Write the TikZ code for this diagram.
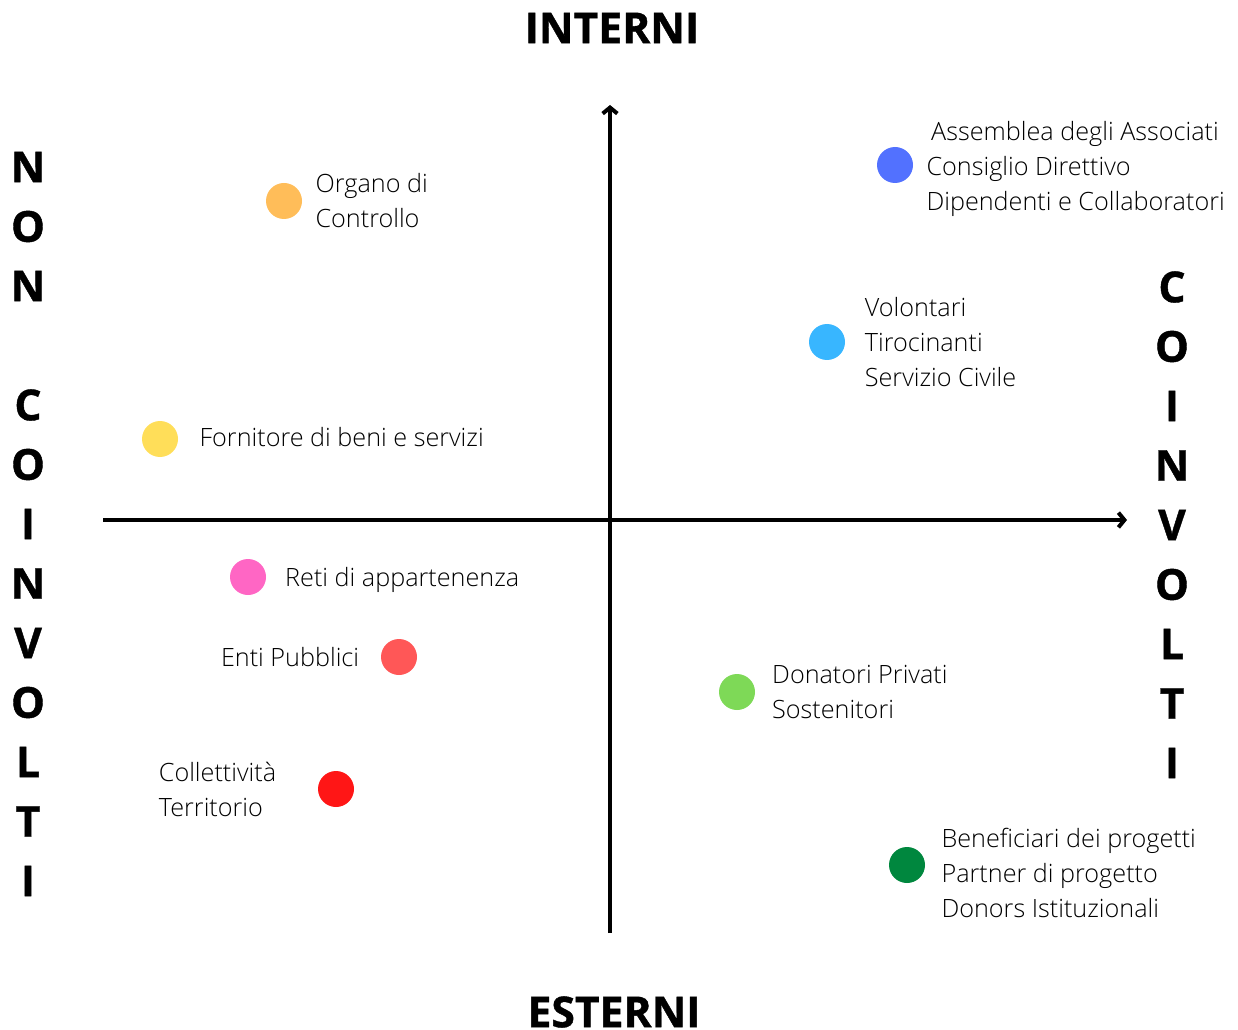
\documentclass[tikz,border=0pt]{standalone}
\usepackage{fontspec}
\setmainfont{Open Sans}[UprightFont={* Light},BoldFont={Open Sans Bold},BoldFeatures={FakeBold=1}]
\usetikzlibrary{positioning,arrows.meta}
\definecolor{cblue}{HTML}{5271FF}
\definecolor{corange}{HTML}{FFBD59}
\definecolor{ccyan}{HTML}{38B6FF}
\definecolor{cyellow}{HTML}{FFDE59}
\definecolor{cpink}{HTML}{FF66C4}
\definecolor{ccoral}{HTML}{FF5757}
\definecolor{cred}{HTML}{FF1616}
\definecolor{clime}{HTML}{7ED957}
\definecolor{cgreen}{HTML}{00873E}
\tikzset{
  dot/.style={circle,inner sep=0pt,minimum size=27pt,fill=#1},
  lab/.style={inner sep=0pt,align=left,font=\fontsize{18.9}{26.25}\selectfont},
  head/.style={inner sep=0pt,font=\fontsize{32}{40}\selectfont\bfseries},
  axis/.style={line width=3pt,-{Straight Barb[length=4.5pt,width=11pt]}}
}
\begin{document}
\begin{tikzpicture}[x=0.75pt,y=-0.75pt]
\useasboundingbox (0,0) rectangle (1238,1030);
% axes
\coordinate (south) at (610,933);
\coordinate (north) at (610,105);
\coordinate (west) at (103,520);
\coordinate (east) at (1127,520);
\draw[axis] (south) -- (north);
\draw[axis] (west) -- (east);
% headings
\node[head] (interni) at (612,28) {INTERNI};
\node[head] (esterni) at (614,1012) {ESTERNI};
\foreach \l/\k in {N/0,O/1,N/2,C/4,O/5,I/6,N/7,V/8,O/9,L/10,T/11,I/12}
  \node[head] at (28,167+59.5*\k) {\l};
\foreach \l/\k in {C/0,O/1,I/2,N/3,V/4,O/5,L/6,T/7,I/8}
  \node[head] at (1172,287+59.5*\k) {\l};
% stakeholders
\node[dot=cblue] (assemblea) at (895,165) {};
\node[lab,right=9.75pt of assemblea,yshift=-3pt] {\hspace{3.5pt}Assemblea degli Associati\\Consiglio Direttivo\\Dipendenti e Collaboratori};
\node[dot=corange] (organo) at (284,201) {};
\node[lab,right=9.75pt of organo] {Organo di\\Controllo};
\node[dot=ccyan] (volontari) at (827,342) {};
\node[lab,right=14.5pt of volontari] {Volontari\\Tirocinanti\\Servizio Civile};
\node[dot=cyellow] (fornitore) at (160,439) {};
\node[lab,right=15.75pt of fornitore,yshift=1.5pt] {Fornitore di beni e servizi};
\node[dot=cpink] (reti) at (248,577) {};
\node[lab,right=14pt of reti,yshift=-2.25pt] {Reti di appartenenza};
\node[dot=ccoral] (enti) at (399,657) {};
\node[lab,left=16pt of enti] {Enti Pubblici};
\node[dot=cred] (collettivita) at (336,789) {};
\node[lab,left=31pt of collettivita] {Collettività\\Territorio};
\node[dot=clime] (donatori) at (737,692) {};
\node[lab,right=12.5pt of donatori] {Donatori Privati\\Sostenitori};
\node[dot=cgreen] (beneficiari) at (907,865) {};
\node[lab,right=12pt of beneficiari,yshift=-6pt] {Beneficiari dei progetti\\Partner di progetto\\Donors Istituzionali};
\end{tikzpicture}
\end{document}
